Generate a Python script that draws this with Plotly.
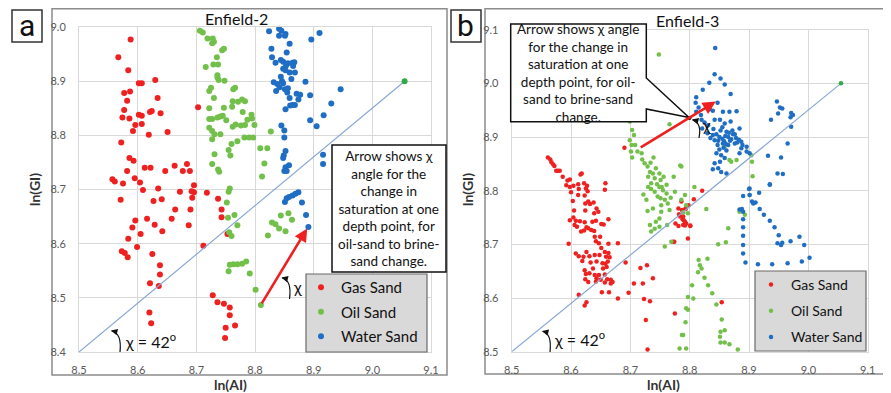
import plotly.graph_objects as go

# The page body adds an 8px margin, so the figure is drawn 8px smaller and
# positions (given in reference-picture pixels) are offset by 8px.
OFF = 8
W, H = 891 - OFF, 393 - OFF
def PX(x): return (x - OFF) / W
def PY(y): return 1 - (y - OFF) / H

FONT = "Lato, Open Sans, sans-serif"
RED, GREEN, BLUE = "#ee2020", "#72c04a", "#1f6ec4"

# ---------------- data: Enfield-2 (panel a) ----------------
gas_a_x = [8.588,8.567,8.584,8.602,8.607,8.630,8.577,8.587,8.582,8.634,8.577,8.574,8.586,8.602,8.607,8.621,8.624,8.639,8.596,8.607,8.592,8.619,8.651,8.703,8.572,8.586,8.593,8.612,8.622,8.582,8.647,8.663,8.677,8.689,8.684,8.557,8.561,8.575,8.595,8.604,8.696,8.609,8.635,
           8.571,8.627,8.641,8.672,8.692,8.696,8.718,8.693,8.737,8.743,8.743,8.664,8.690,8.658,8.596,8.616,8.629,8.591,8.687,8.642,8.605,8.584,8.599,8.573,8.578,8.583,8.625,8.638,8.638,8.621,8.636,8.712,8.753,8.728,8.736,8.747,8.757,8.757,8.766,8.750,8.749,8.620,8.623]
gas_a_y = [8.977,8.944,8.920,8.896,8.896,8.902,8.878,8.881,8.864,8.869,8.847,8.833,8.831,8.838,8.836,8.843,8.845,8.841,8.819,8.821,8.808,8.801,8.806,8.852,8.787,8.758,8.753,8.740,8.740,8.734,8.734,8.744,8.734,8.734,8.747,8.719,8.715,8.711,8.721,8.713,8.708,8.699,8.702,
           8.681,8.679,8.682,8.696,8.697,8.695,8.694,8.685,8.683,8.663,8.649,8.663,8.663,8.646,8.643,8.646,8.635,8.630,8.634,8.623,8.618,8.609,8.594,8.586,8.583,8.575,8.581,8.560,8.543,8.527,8.522,8.596,8.618,8.505,8.492,8.489,8.482,8.468,8.449,8.445,8.426,8.473,8.453]

oil_a_x = [8.706,8.711,8.719,8.728,8.730,8.727,8.747,8.744,8.735,8.729,8.737,8.716,8.736,8.738,8.748,8.736,8.725,8.722,8.763,8.766,8.730,8.762,8.771,8.778,8.783,8.722,8.747,8.761,8.722,8.727,8.736,8.741,8.745,8.751,8.762,8.767,8.776,8.779,8.787,8.783,8.795,8.794,8.799,8.722,8.727,8.731,8.741,8.727,8.770,8.760,8.782,8.790,8.797,8.755,8.758,8.731,8.727,8.737,8.739,8.757,8.827,8.809,8.821,8.816,8.812,
           8.755,8.752,8.765,8.770,8.754,8.756,8.760,8.757,8.763,8.770,8.778,8.785,8.755,8.791,8.801,8.810,8.844,8.857,8.863,8.829,8.835,8.841,8.852,8.822]
oil_a_y = [8.993,8.990,8.979,8.979,8.973,8.970,8.960,8.957,8.944,8.931,8.931,8.926,8.911,8.902,8.901,8.907,8.888,8.882,8.885,8.888,8.869,8.863,8.862,8.866,8.863,8.850,8.851,8.853,8.830,8.830,8.833,8.835,8.836,8.828,8.816,8.820,8.818,8.843,8.829,8.819,8.831,8.838,8.819,8.814,8.808,8.802,8.802,8.793,8.789,8.784,8.796,8.796,8.796,8.773,8.763,8.765,8.747,8.737,8.733,8.702,8.807,8.776,8.776,8.748,8.724,
           8.696,8.676,8.653,8.634,8.648,8.621,8.614,8.561,8.562,8.562,8.563,8.567,8.549,8.545,8.515,8.487,8.652,8.656,8.644,8.639,8.636,8.628,8.623,8.615]

water_a_x = [8.839,8.841,8.845,8.852,8.851,8.824,8.841,8.910,8.896,8.859,8.828,8.854,8.829,8.835,8.844,8.848,8.853,8.856,8.864,8.867,8.865,8.848,8.852,8.859,8.868,8.862,8.844,8.846,8.832,8.838,8.848,8.886,8.836,8.842,8.851,8.855,8.856,8.877,8.874,8.871,8.894,8.859,8.864,8.868,8.860,8.852,8.946,8.930,8.917,8.894,8.905,8.845,8.850,8.850,8.916,8.916,8.852,8.849,8.848,8.852,8.858,8.850,8.854,
             8.851,8.854,8.858,8.864,8.869,8.874,8.880,8.887,8.891]
water_a_y = [9.001,8.997,8.993,8.987,8.984,8.992,8.984,8.989,8.977,8.969,8.960,8.953,8.944,8.934,8.939,8.936,8.929,8.933,8.934,8.935,8.928,8.923,8.920,8.916,8.916,8.904,8.908,8.900,8.898,8.895,8.896,8.899,8.882,8.889,8.885,8.879,8.887,8.875,8.866,8.877,8.874,8.869,8.856,8.856,8.855,8.848,8.885,8.859,8.837,8.828,8.817,8.818,8.809,8.796,8.764,8.747,8.771,8.763,8.758,8.741,8.745,8.734,8.734,
             8.677,8.684,8.686,8.689,8.692,8.695,8.676,8.653,8.631]

line_a_x = [8.5, 9.055]
line_a_y = [8.4, 8.9]
arrow_a = [8.810, 8.487, 8.889, 8.628]  # start x, start y, end x, end y

# ---------------- data: Enfield-3 (panel b) ----------------
gas_b_x = [8.561,8.565,8.567,8.570,8.572,8.575,8.578,8.581,8.586,8.594,8.598,8.604,8.612,8.616,8.618,8.622,8.598,8.592,8.627,8.658,8.690,
           8.613,8.625,8.628,8.657,8.600,8.612,8.623,8.603,8.624,8.629,8.632,8.638,8.643,8.605,8.624,8.639,8.646,8.604,8.608,8.615,8.623,8.636,8.642,8.651,8.655,8.663,8.598,8.606,8.610,8.626,8.629,8.622,8.634,8.639,8.617,8.640,8.649,8.647,8.663,8.642,8.596,8.651,8.657,8.663,8.608,8.626,8.648,8.613,8.621,8.631,8.640,8.659,8.665,8.619,8.633,8.643,8.653,8.658,8.662,8.623,8.637,8.654,8.660,8.625,8.631,8.640,8.647,8.657,8.624,8.643,8.650,8.661,8.667,8.629,8.642,8.657,8.667,8.670,8.652,8.664,8.613,8.626,8.623,
           8.679,8.692,8.706,8.697,8.679,8.717,8.728,8.721,8.738,8.723,8.733,8.726,8.729,8.775,
           8.821,8.807,8.786,8.787,8.793,8.789,8.790,8.794,8.801,8.797,8.788,8.792,8.854,8.782,8.789,8.793,8.776,8.772,8.781,8.798,8.784,8.801,8.792,8.781,8.774]
gas_b_y = [8.862,8.858,8.853,8.849,8.846,8.837,8.837,8.837,8.826,8.819,8.821,8.809,8.812,8.830,8.832,8.814,8.807,8.810,8.809,8.814,8.880,
           8.803,8.804,8.799,8.802,8.797,8.792,8.791,8.781,8.776,8.780,8.775,8.778,8.767,8.763,8.763,8.758,8.761,8.750,8.744,8.743,8.741,8.742,8.744,8.738,8.737,8.747,8.745,8.736,8.733,8.732,8.730,8.726,8.727,8.725,8.724,8.714,8.714,8.702,8.701,8.706,8.701,8.693,8.686,8.684,8.683,8.686,8.680,8.678,8.677,8.678,8.680,8.677,8.676,8.669,8.666,8.668,8.665,8.664,8.668,8.652,8.655,8.655,8.658,8.645,8.646,8.643,8.643,8.644,8.635,8.637,8.634,8.635,8.634,8.630,8.631,8.629,8.627,8.630,8.611,8.611,8.606,8.592,8.586,
           8.702,8.666,8.627,8.610,8.599,8.656,8.661,8.627,8.637,8.598,8.594,8.559,8.504,8.571,
           8.800,8.784,8.780,8.764,8.766,8.752,8.745,8.739,8.735,8.711,8.747,8.735,8.592,8.756,8.736,8.767,8.739,8.705,8.767,8.773,8.752,8.734,8.742,8.734,8.705]

oil_b_x = [8.748,8.735,8.703,8.706,8.699,8.702,8.708,8.701,8.712,8.703,8.719,8.720,8.724,8.729,8.734,8.739,8.743,8.733,8.738,8.749,8.730,8.741,8.751,8.756,8.735,8.745,8.753,8.761,8.766,8.784,8.773,8.699,
           8.730,8.735,8.741,8.749,8.755,8.761,8.746,8.751,8.758,8.768,8.775,8.786,8.763,8.752,8.738,8.729,8.752,8.766,8.789,8.749,8.743,8.733,8.741,8.735,8.749,8.762,8.758,8.769,8.727,8.722,
           8.797,8.794,8.787,8.783,
           8.808,8.792,8.794,8.797,8.828,8.865,8.848,8.861,8.815,8.817,8.820,8.814,8.830,8.825,8.831,8.838,8.804,8.806,8.845,8.797,8.793,8.854,8.859,8.852,8.851,8.852,8.859,8.867,8.881,8.789,8.794,8.901,8.884,8.893,
           8.859,8.867,8.870,8.879,8.904,8.905,8.906,8.786]
oil_b_y = [9.054,8.953,8.913,8.904,8.894,8.885,8.885,8.873,8.873,8.862,8.870,8.858,8.851,8.845,8.852,8.862,8.842,8.835,8.832,8.832,8.826,8.823,8.820,8.826,8.814,8.812,8.807,8.811,8.924,8.847,8.826,8.929,
           8.807,8.803,8.798,8.807,8.801,8.795,8.789,8.786,8.783,8.787,8.798,8.783,8.776,8.773,8.767,8.762,8.761,8.764,8.760,8.748,8.742,8.736,8.729,8.724,8.733,8.736,8.696,8.705,8.783,8.793,
           8.602,8.581,8.531,8.506,
           8.807,8.792,8.773,8.758,8.766,8.730,8.700,8.704,8.671,8.661,8.655,8.648,8.673,8.638,8.624,8.609,8.624,8.599,8.588,8.578,8.555,8.560,8.540,8.537,8.528,8.517,8.517,8.514,8.504,8.531,8.506,8.792,8.761,8.755,
           8.882,8.857,8.854,8.857,8.866,8.854,8.827,8.845]

water_b_x = [8.843,8.842,8.852,8.833,8.859,8.869,8.822,8.811,8.810,8.847,8.815,8.811,8.819,8.834,8.839,8.856,8.867,8.879,8.820,8.825,8.831,8.842,8.851,8.859,8.869,8.884,8.821,8.830,8.839,8.842,8.847,8.856,8.865,8.876,8.887,8.896,8.845,8.853,8.859,8.851,8.842,8.848,8.839,8.853,8.862,8.887,8.884,8.896,8.901,
             8.947,8.952,8.956,8.949,8.971,8.974,8.970,8.937,8.971,8.965,8.932,8.954,8.948,8.957,8.935,8.901,
             8.845,8.850,8.855,8.860,8.865,8.870,8.848,8.858,8.868,8.873,8.862,8.852,8.878,8.883,8.857,8.862,8.850,8.866,8.876,8.840,8.835,8.889,8.872,8.880,8.855,8.861,
             8.900,8.917,8.935,8.890,8.901,8.907,8.911,8.905,8.884,8.888,8.918,8.925,8.935,8.943,8.950,8.948,8.954,8.956,8.970,8.985,8.993,8.890,8.890,8.890,8.890,8.890,8.890,8.894,8.915,8.939,8.965,8.989,9.002]
water_b_y = [9.066,9.017,9.009,9.001,8.998,8.980,8.988,8.974,8.964,8.964,8.955,8.947,8.941,8.952,8.949,8.947,8.947,8.948,8.932,8.927,8.922,8.932,8.932,8.925,8.929,8.916,8.916,8.907,8.904,8.894,8.885,8.888,8.885,8.888,8.891,8.882,8.870,8.866,8.861,8.854,8.851,8.842,8.840,8.835,8.832,8.879,8.870,8.873,8.870,
             8.966,8.955,8.953,8.944,8.945,8.941,8.937,8.932,8.919,8.888,8.865,8.862,8.832,8.831,8.812,8.804,
             8.905,8.900,8.897,8.902,8.900,8.896,8.893,8.892,8.893,8.905,8.910,8.912,8.898,8.895,8.880,8.875,8.877,8.908,8.905,8.915,8.898,8.885,8.912,8.890,8.918,8.887,
             8.803,8.796,8.811,8.790,8.792,8.776,8.778,8.780,8.765,8.766,8.766,8.755,8.744,8.732,8.717,8.702,8.699,8.703,8.706,8.714,8.699,8.761,8.747,8.732,8.716,8.699,8.683,8.666,8.663,8.663,8.665,8.668,8.675]

line_b_x = [8.5, 9.055]
line_b_y = [8.5, 9.0]
arrow_b = [8.715, 8.879, 8.844, 8.966]

ticks_x = [8.5, 8.6, 8.7, 8.8, 8.9, 9.0, 9.1]
ticks_y_a = [8.4, 8.5, 8.6, 8.7, 8.8, 8.9, 9.0]
ticks_y_b = [8.5, 8.6, 8.7, 8.8, 8.9, 9.0, 9.1]

fig = go.Figure()

def add_panel(xa, ya, lg, gx, gy, ox, oy, wx, wy, lx, ly, msize):
    for name, xs, ys, col in [("Gas Sand", gx, gy, RED), ("Oil Sand", ox, oy, GREEN), ("Water Sand", wx, wy, BLUE)]:
        fig.add_trace(go.Scatter(x=xs, y=ys, mode="markers", name=name, xaxis=xa, yaxis=ya,
                                 legend=lg, legendgroup=lg + name, cliponaxis=False,
                                 marker=dict(color=col, size=msize, line=dict(width=0))))
    fig.add_trace(go.Scatter(x=lx, y=ly, mode="lines", xaxis=xa, yaxis=ya, showlegend=False,
                             line=dict(color="#8aa8d4", width=1.2), hoverinfo="skip"))
    fig.add_trace(go.Scatter(x=[lx[1]], y=[ly[1]], mode="markers", xaxis=xa, yaxis=ya, showlegend=False,
                             cliponaxis=False, marker=dict(color="#33a84a", size=msize)))

add_panel("x", "y", "legend", gas_a_x, gas_a_y, oil_a_x, oil_a_y, water_a_x, water_a_y, line_a_x, line_a_y, 6)
add_panel("x2", "y2", "legend2", gas_b_x, gas_b_y, oil_b_x, oil_b_y, water_b_x, water_b_y, line_b_x, line_b_y, 4.5)

axcommon = dict(showgrid=True, gridcolor="#d9d9d9", gridwidth=1, zeroline=False, showline=True,
                linecolor="#d9d9d9", mirror=True, tickfont=dict(family=FONT, size=11, color="#595959"),
                tickformat=".1f", ticks="", fixedrange=True, automargin=False)

fig.update_layout(
    width=W, height=H, margin=dict(l=0, r=0, t=0, b=0, autoexpand=False), autosize=False,
    paper_bgcolor="white", plot_bgcolor="white", font=dict(family=FONT),
    xaxis=dict(domain=[PX(79), PX(431)], range=[8.5, 9.1], tickvals=ticks_x, anchor="y", ticklabelstandoff=8, **axcommon),
    yaxis=dict(domain=[PY(352), PY(27)], range=[8.4, 9.0], tickvals=ticks_y_a, anchor="x", ticklabelstandoff=10, **axcommon),
    xaxis2=dict(domain=[PX(511.7), PX(867.7)], range=[8.5, 9.1], tickvals=ticks_x, anchor="y2", ticklabelstandoff=8, **axcommon),
    yaxis2=dict(domain=[PY(351.7), PY(29.7)], range=[8.5, 9.1], tickvals=ticks_y_b, anchor="x2", ticklabelstandoff=10, **axcommon),
    legend=dict(x=PX(301), y=PY(271), xanchor="left", yanchor="top", bgcolor="rgba(0,0,0,0)", borderwidth=0,
                font=dict(family=FONT, size=15, color="#111"), itemsizing="trace", tracegroupgap=2, itemwidth=30),
    legend2=dict(x=PX(751), y=PY(269), xanchor="left", yanchor="top", bgcolor="rgba(0,0,0,0)", borderwidth=0,
                 font=dict(family=FONT, size=14, color="#111"), itemsizing="trace", tracegroupgap=5, itemwidth=30),
)

shapes = []
def rect(x0, y0, x1, y1, line="#808080", lw=1.5, fill="rgba(0,0,0,0)", layer="above"):
    shapes.append(dict(type="rect", xref="paper", yref="paper", x0=PX(x0), y0=PY(y1), x1=PX(x1), y1=PY(y0),
                       line=dict(color=line, width=lw), fillcolor=fill, layer=layer))

# outer chart borders
rect(52, 8.8, 447, 375, line="#8c8c8c", lw=1.5, layer="below")
rect(485, 8.8, 888, 374, line="#8c8c8c", lw=1.5, layer="below")
# panel letter boxes
rect(12, 10, 42, 42, line="#333", lw=1.5)
rect(451, 10, 481, 42, line="#333", lw=1.5)
# legends
rect(306, 274, 427, 352, line="#6b6b6b", lw=1.2, fill="#d9d9d9")
rect(755, 271, 866, 351, line="#6b6b6b", lw=1.2, fill="#d9d9d9")
# text box a
rect(332, 145, 446, 272, line="#111", lw=1.5, fill="white")
# callout b
pts = [(510.7, 24), (646.3, 24), (646.3, 78), (689, 117.5), (646.3, 109), (646.3, 121.7), (510.7, 121.7)]
path = "M " + " L ".join(f"{PX(a):.5f},{PY(b):.5f}" for a, b in pts) + " Z"
shapes.append(dict(type="path", xref="paper", yref="paper", path=path, line=dict(color="#111", width=1.5),
                   fillcolor="white", layer="above"))
shapes.append(dict(type="circle", xref="paper", yref="paper", x0=PX(687.5), x1=PX(691.5), y0=PY(120), y1=PY(116),
                   fillcolor="#111", line=dict(width=0), layer="above"))

def arc(p0, c, p1):
    shapes.append(dict(type="path", xref="paper", yref="paper",
                       path=f"M {PX(p0[0]):.5f},{PY(p0[1]):.5f} Q {PX(c[0]):.5f},{PY(c[1]):.5f} {PX(p1[0]):.5f},{PY(p1[1]):.5f}",
                       line=dict(color="#111", width=1.2), layer="above"))

arc((111.5, 331), (122, 333), (120, 352))
arc((282, 278), (292, 280), (289.5, 299))
arc((692.5, 120), (702, 123), (699, 138))
arc((542.5, 331.5), (552, 333), (550, 352))
fig.update_layout(shapes=shapes)

anns = []
def text(x, y, s, size, color="#111", bold=False, angle=0, family=FONT, align="center"):
    anns.append(dict(xref="paper", yref="paper", x=PX(x), y=PY(y), text=(f"<b>{s}</b>" if bold else s),
                     showarrow=False, font=dict(family=family, size=size, color=color), textangle=angle,
                     xanchor="center", yanchor="middle", align=align))

def head(x, y, dx, dy):
    anns.append(dict(xref="paper", yref="paper", x=PX(x), y=PY(y), ax=dx, ay=dy, text="", showarrow=True,
                     arrowhead=2, arrowsize=1.3, arrowwidth=1, arrowcolor="#111"))

text(237, 18, "Enfield-2", 16)
text(687, 20, "Enfield-3", 16)
text(27, 25, "a", 30, family="Liberation Sans Narrow, Roboto, sans-serif")
text(466, 25, "b", 30, family="Liberation Sans Narrow, Roboto, sans-serif")
text(35, 190, "ln(GI)", 14, color="#333", bold=True, angle=-90)
text(468, 190, "ln(GI)", 14, color="#333", bold=True, angle=-90)
text(230, 384, "ln(AI)", 14, color="#333", bold=True)
text(663, 384, "ln(AI)", 14, color="#333", bold=True)
text(389, 209, "Arrow shows χ<br>angle for the<br>change in<br>saturation at one<br>depth point, for<br>oil-sand to brine-<br>sand change.", 13.5)
text(578, 73, "Arrow shows χ angle<br>for the change in<br>saturation at one<br>depth point, for oil-<br>sand to brine-sand<br>change.", 13.5)
text(150, 340, "χ = 42<sup>o</sup>", 16)
text(579, 338, "χ = 42<sup>o</sup>", 16)
text(297, 286, "χ", 16)
text(706, 124, "χ", 16)
head(111, 330.5, 4, 1)
head(281.5, 277.5, 4, 1)
head(692, 119.5, 4, 1)
head(542, 331, 4, 1)

for a in (arrow_a, arrow_b):
    xr, yr = ("x", "y") if a is arrow_a else ("x2", "y2")
    anns.append(dict(xref=xr, yref=yr, axref=xr, ayref=yr, x=a[2], y=a[3], ax=a[0], ay=a[1], text="",
                     showarrow=True, arrowhead=2, arrowsize=1, arrowwidth=2.6, arrowcolor="#ee2020"))

fig.update_layout(annotations=anns)
fig.write_html("out.html")
